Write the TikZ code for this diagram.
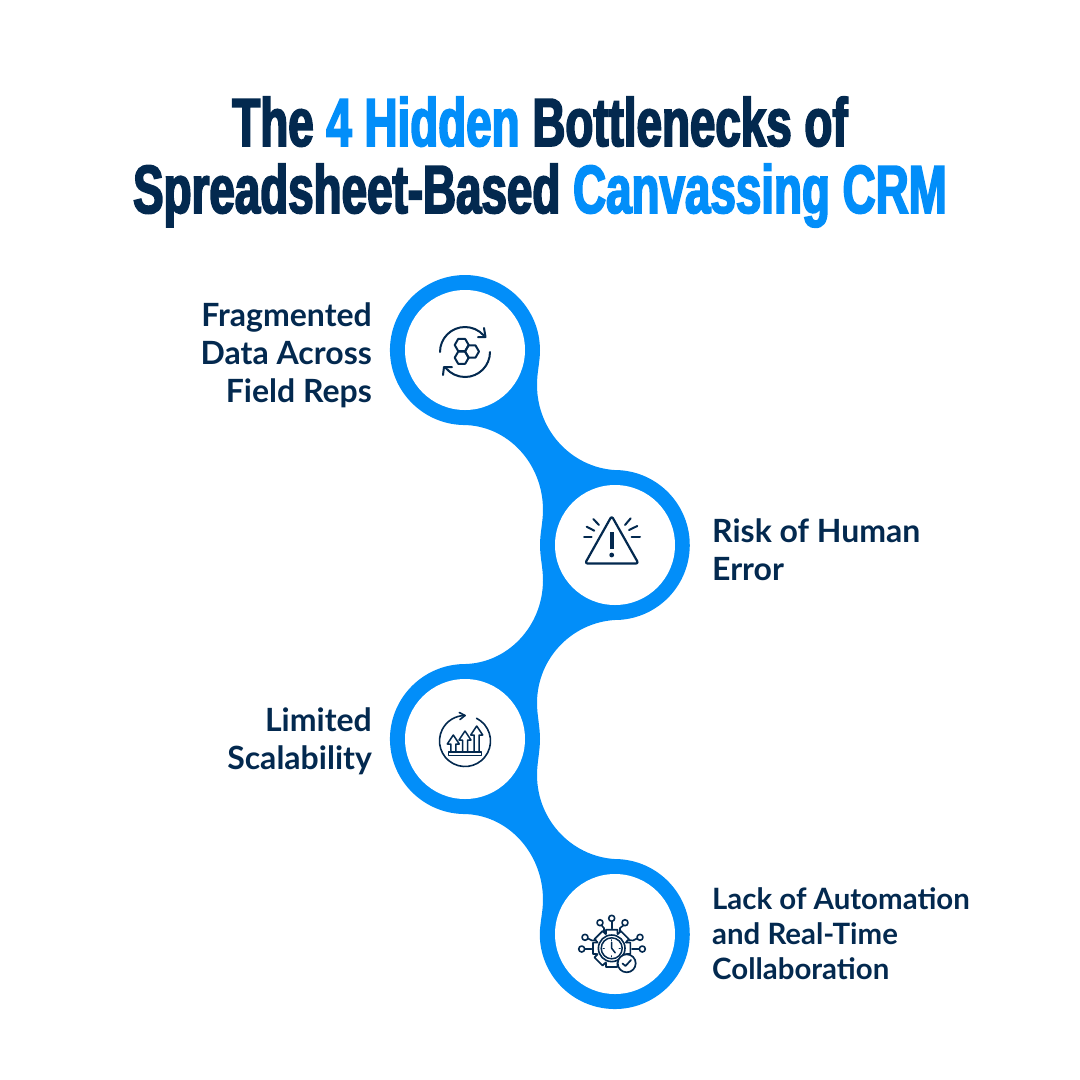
\documentclass[tikz,border=0pt]{standalone}
\usepackage{fontspec}
\setmainfont{Lato}[UprightFont=* Bold]
\newfontfamily\titlefont[FakeStretch=0.673,FakeBold=2.6,UprightFont=* Bold]{Liberation Sans}
\definecolor{pathblue}{HTML}{028EF9}
\definecolor{inknavy}{HTML}{03294F}
\def\hexcell(#1,#2){\draw[iconline] (#1+7,#2) -- ++(120:7) -- ++(180:7) -- ++(240:7) -- ++(300:7) -- ++(0:7) -- cycle;}
\def\growarrow(#1,#2){\draw[iconline,line width=1.5] (#1-2.5,752) -- (#1-2.5,#2+9) -- (#1-6,#2+9) -- (#1,#2) -- (#1+6,#2+9) -- (#1+2.5,#2+9) -- (#1+2.5,752);}
\def\wirenode(#1,#2){\draw[iconline,line width=1.6] (#1,#2) circle (3);}
\tikzset{
	disc/.style={circle, fill=white, minimum size=120, inner sep=0},
	iconline/.style={draw=inknavy, line width=2, line cap=round, line join=round},
	labelleft/.style={anchor=east, align=right, text=inknavy, inner sep=0, font=\fontsize{32}{38}\selectfont},
	labelright/.style={anchor=west, align=left, text=inknavy, inner sep=0, font=\fontsize{32}{38}\selectfont},
}
\begin{document}
\begin{tikzpicture}[x=1pt, y=-1pt]
			\useasboundingbox (0, 0) rectangle (1080, 1080);
			
			%%%%% TITLE %%%%%
			\node[align=center, inner sep=0, text=inknavy, font=\titlefont\fontsize{68}{67}\selectfont] (heading) at (540, 162)
				{The \textcolor{pathblue}{4 Hidden} Bottlenecks of\\Spreadsheet-Based \textcolor{pathblue}{Canvassing CRM}};
			
			%%%%% RIBBON %%%%%
			\fill[pathblue] (540, 350) .. controls (540, 362) and (537, 372) .. (537, 385)
				arc[start angle=180, end angle=90, x radius=83, y radius=85.2]
				arc[start angle=274, end angle=446, radius=75]
				arc[start angle=270, end angle=180, x radius=83, y radius=83.2]
				.. controls (537, 715) and (540, 727) .. (540, 739) .. controls (540, 751) and (537, 763) .. (537, 775)
				arc[start angle=180, end angle=90, x radius=83, y radius=84.2]
				arc[start angle=274, end angle=540, radius=75]
				.. controls (540, 922) and (543, 912) .. (543, 900)
				arc[start angle=0, end angle=-90, x radius=80, y radius=86]
				arc[start angle=91.5, end angle=268.5, radius=75]
				arc[start angle=90, end angle=0, x radius=80, y radius=84]
				.. controls (543, 568) and (540, 557) .. (540, 545) .. controls (540, 533) and (543, 522) .. (543, 510)
				arc[start angle=0, end angle=-90, x radius=80, y radius=85]
				arc[start angle=91.5, end angle=360, radius=75] -- cycle;
			
			\node[disc] (discA) at (465, 350) {};
			\node[disc] (discB) at (615, 545) {};
			\node[disc] (discC) at (465, 739) {};
			\node[disc] (discD) at (615, 934) {};
			
			%%%%% LABELS %%%%%
			\node[labelleft] (labelA) at (372, 355) {Fragmented\\Data Across\\Field Reps};
			\node[labelright] (labelB) at (712, 550) {Risk of Human\\Error};
			\node[labelleft] (labelC) at (372, 741) {Limited\\Scalability};
			\node[labelright, font=\fontsize{29.4}{35}\selectfont] (labelD) at (712, 934) {Lack of Automation\\and Real-Time\\Collaboration};
			
			%%%%% ICON A %%%%%
			\draw[iconline] (440, 352) arc[start angle=180, end angle=318, radius=25];
			\draw[iconline] (478, 337) -- (485.5, 337) -- (484, 328);
			\draw[iconline] (490, 352) arc[start angle=0, end angle=140, radius=25];
			\draw[iconline] (443, 375) -- (444, 367) -- (452, 367);
			\hexcell(461.7,345)
			\hexcell(472,351.5)
			\hexcell(461.7,357.7)
			
			%%%%% ICON B %%%%%
			\draw[iconline, line width=2.2, rounded corners=2.5] (611.7, 516) -- (638.5, 563.5) -- (585, 563.5) -- cycle;
			\draw[iconline, line width=4, line cap=butt] (611.7, 532) -- (611.7, 549);
			\fill[inknavy] (611.7, 555) circle (2.4);
			\draw[iconline] (584, 537) -- (591.7, 537);
			\draw[iconline] (586.7, 526.7) -- (594.3, 530.7);
			\draw[iconline] (593.3, 519) -- (599, 525);
			\draw[iconline] (631.7, 537) -- (640, 537);
			\draw[iconline] (629, 530) -- (637.3, 526);
			\draw[iconline] (625, 525) -- (630.7, 518.3);
			
			%%%%% ICON C %%%%%
			\draw[iconline, line width=1.6] (465, 741) ++(-63:25.5) arc[start angle=-63, end angle=270, radius=25.5];
			\draw[iconline, line width=1.6] (459.3, 712.5) -- (465, 715.5) -- (460, 719.5);
			\draw[iconline, line width=1.5] (448.5, 752) rectangle (481.5, 755.5);
			\growarrow(453.3,735)
			\growarrow(465,731)
			\growarrow(476.7,726)
			
			%%%%% ICON D %%%%%
			\begin{scope}[shift={(611.7, 948.3)}]
				\foreach \tooth in {0, 45, ..., 315} {
					\draw[iconline, line width=1.7] (\tooth-22:15.5) -- (\tooth-17:19.5) -- (\tooth+17:19.5) -- (\tooth+22:15.5) -- (\tooth+23:15.5);
				}
				\draw[iconline, fill=white, line width=1.6] (0, 0) circle (13.3);
				\draw[iconline, line width=1.5] (0, 0) circle (10.5);
				\draw[iconline, line width=1.5] (0, -6) -- (0, 0) -- (3.5, 4.5);
				\foreach \tick in {0, 90, 180, 270} {
					\draw[iconline, line width=1.2] (\tick:8.5) -- (\tick:7.5);
				}
			\end{scope}
			\draw[iconline, fill=white, line width=1.7] (626.7, 963.3) circle (9);
			\draw[iconline, line width=1.7] (622.5, 963.5) -- (625.5, 966) -- (631, 960);
			\wirenode(611.7,918.3)
			\wirenode(600,922.7)
			\wirenode(625,922.7)
			\wirenode(585,937.3)
			\wirenode(640,937.3)
			\wirenode(581.7,949)
			\wirenode(642.3,949)
			\draw[iconline, line width=1.6] (611.7, 921.3) -- (611.7, 928.5);
			\draw[iconline, line width=1.6] (601.5, 925.3) -- (604, 928) -- (604, 932);
			\draw[iconline, line width=1.6] (623.5, 925.3) -- (620, 928) -- (620, 932);
			\draw[iconline, line width=1.6] (588, 938.5) -- (592, 940.5) -- (596, 940);
			\draw[iconline, line width=1.6] (637, 938.5) -- (633, 940.5) -- (629, 940);
			\draw[iconline, line width=1.6] (584.7, 949) -- (591.5, 949);
			\draw[iconline, line width=1.6] (639.3, 949) -- (632, 949);
			
			%%%%% END %%%%%
\end{tikzpicture}
\end{document}
